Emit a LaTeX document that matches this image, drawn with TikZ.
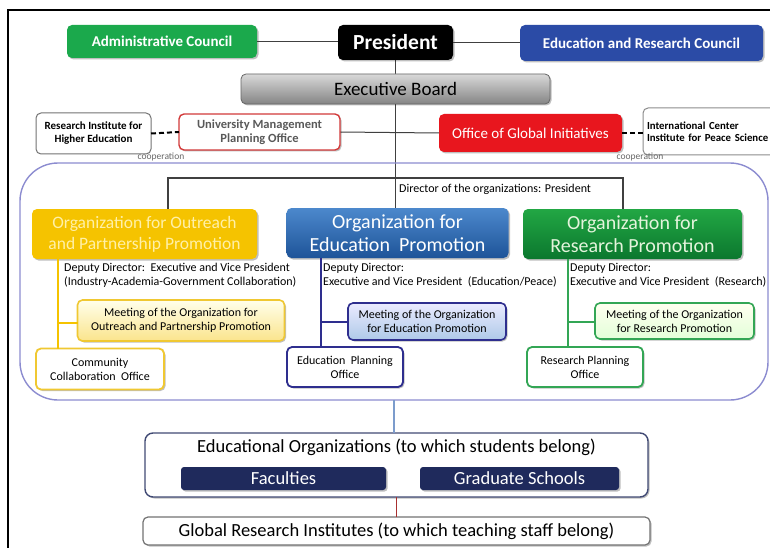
\documentclass[tikz,border=0pt]{standalone}
\usepackage{fontspec}
\setmainfont{Carlito}
\usetikzlibrary{shadows}
\pgfdeclarelayer{bg}
\pgfsetlayers{bg,main}
\definecolor{admgreen}{HTML}{1BA94C}
\definecolor{ercblue}{HTML}{2B4BA6}
\definecolor{ogired}{HTML}{E8161E}
\definecolor{umpored}{HTML}{D23A3A}
\definecolor{orgyellow}{HTML}{F5C300}
\definecolor{yeltext}{HTML}{FFF0A8}
\definecolor{edutop}{HTML}{4C88CC}
\definecolor{edubot}{HTML}{1E5499}
\definecolor{restop}{HTML}{22A744}
\definecolor{resbot}{HTML}{0B772E}
\definecolor{restext}{HTML}{E4F4DC}
\definecolor{frameblue}{HTML}{8C8CD0}
\definecolor{yelborder}{HTML}{F0C832}
\definecolor{navy}{HTML}{2E2E8E}
\definecolor{grnborder}{HTML}{33A655}
\definecolor{darknavy}{HTML}{1F2A5C}
\definecolor{linkblue}{HTML}{7C9CCC}
\definecolor{linkred}{HTML}{A83030}
\tikzset{
  box/.style={rounded corners=5pt, inner sep=0pt, outer sep=0pt, align=center},
  shad/.style={drop shadow={shadow xshift=1.5pt, shadow yshift=-1.5pt, opacity=0.25, fill=black}},
  sz/.style 2 args={minimum width=#1, minimum height=#2},
  conn/.style={draw=black!75, line width=1pt},
  coop/.style={draw=black, line width=2pt, dash pattern=on 5pt off 3pt},
  coopnote/.style={font=\fontsize{9.5}{10}\selectfont, text=black!60, inner sep=0pt},
  deputy/.style={font=\fontsize{12}{14}\selectfont, align=left, anchor=north west, inner sep=0pt},
  small/.style={font=\fontsize{12}{14}\selectfont}
}
\begin{document}
\begin{tikzpicture}[x=1pt,y=-1pt]
\useasboundingbox (0,0) rectangle (770,548);
\clip (0,0) rectangle (770,548);
\begin{pgfonlayer}{bg}
\fill[white] (0,0) rectangle (770,548);
\end{pgfonlayer}
% frame
\draw[line width=1.6pt, black] (8,548) -- (8,10) -- (770,10);

% big organisation frame
\node[draw=frameblue, line width=1.4pt, rounded corners=38pt, inner sep=0pt, outer sep=0pt, minimum width=748, minimum height=237] (orgs) at (394,281.5) {};

% top row
\node[box, shad, fill=admgreen, text=white, font=\bfseries\fontsize{15}{17}\selectfont, sz={190}{33}] (admin) at (162,41.5) {Administrative Council};
\node[box, shad, fill=black, text=white, font=\bfseries\fontsize{21.5}{23}\selectfont, sz={115}{35}] (pres) at (395.5,42.5) {President};
\node[box, shad, fill=ercblue, text=white, font=\bfseries\fontsize{15}{17}\selectfont, sz={243}{36}] (erc) at (641.5,43) {Education and Research Council};
\draw[conn] (admin.east) -- (admin.east -| pres.west);
\draw[conn] (pres.east) -- (pres.east -| erc.west);

\node[box, shad, draw=black!60, line width=0.8pt, top color=black!15, bottom color=black!48, font=\fontsize{19}{21}\selectfont, sz={309}{30}] (exec) at (395.5,89) {Executive Board};

% second row
\node[box, shad, draw=umpored, fill=white, line width=1.4pt, text=black!65, font=\bfseries\fontsize{12.5}{14.5}\selectfont, sz={161}{36}] (umpo) at (259.5,132) {University Management\\Planning Office};
\node[box, shad, fill=ogired, text=white, font=\fontsize{15}{17}\selectfont, sz={183}{38}] (ogi) at (530.5,133) {Office of Global Initiatives};
\begin{pgfonlayer}{bg}
\draw[conn] (umpo.east) -- (ogi.west);
\end{pgfonlayer}
\node[box, draw=black!55, fill=white, line width=1pt, font=\bfseries\fontsize{11}{13}\selectfont, sz={115}{41}] (rihe) at (93.5,133.5) {Research Institute for\\Higher Education};
\node[box, draw=black!45, fill=white, line width=1pt, font=\bfseries\fontsize{10.8}{12.5}\selectfont, sz={150}{47}, align=left, text width=142pt] (icps) at (718,131.5) {International Center\\Institute for Peace Science};
\draw[coop] (rihe.east) -- (umpo.west);
\draw[coop] (ogi.east) -- (ogi.east -| icps.west);
\node[coopnote] (c1) at (161,156.5) {cooperation};
\node[coopnote] (c2) at (640,156.5) {cooperation};

% organisation boxes
\node[box, shad, fill=orgyellow, text=yeltext, font=\fontsize{17.5}{21}\selectfont, sz={225}{50}] (outreach) at (144.5,234) {Organization for Outreach\\and Partnership Promotion};
\node[box, shad, top color=edutop, bottom color=edubot, text=white, font=\fontsize{20}{23}\selectfont, sz={222}{50}] (edu) at (397.5,233) {Organization for\\Education\ \ Promotion};
\node[box, shad, top color=restop, bottom color=resbot, text=restext, font=\fontsize{20}{23}\selectfont, sz={219}{50}] (res) at (632.5,234) {Organization for\\Research Promotion};

% spine and directors line
\coordinate (hl) at (168,178);
\coordinate (hr) at (623,178);
\begin{pgfonlayer}{bg}
\draw[conn, line width=1.4pt] (pres.south) -- (pres.south |- edu.north);
\end{pgfonlayer}
\draw[conn, line width=1.4pt] (outreach.north -| hl) -- (hl) -- (hr) -- (res.north -| hr);
\node[font=\fontsize{12}{14}\selectfont, anchor=west, inner sep=0pt] (dir) at (399,189) {Director of the organizations: President};

% deputy texts
\node[deputy] (dy) at (64,263) {Deputy Director:\ \ Executive and Vice President\\(Industry-Academia-Government Collaboration)};
\node[deputy] (db) at (323,263) {Deputy Director:\\Executive and Vice President\ \ (Education/Peace)};
\node[deputy] (dg) at (570,263) {Deputy Director:\\Executive and Vice President\ \ (Research)};

% branch anchors
\coordinate (yx) at (58,323);
\coordinate (bx) at (321,322);
\coordinate (gx) at (568,322);

% yellow branch
\node[box, shad, small, draw=yelborder, line width=1.6pt, top color=yellow!8, bottom color=orgyellow!45, sz={207}{41}] (meety) at (181,320.5) {Meeting of the Organization for\\Outreach and Partnership Promotion};
\node[box, shad, small, draw=yelborder, fill=white, line width=1.8pt, sz={128}{41}] (comm) at (100,369) {Community\\Collaboration\ \ Office};
\draw[draw=orgyellow, line width=1.6pt] (yx |- outreach.south) -- (yx |- comm.north);
\draw[draw=orgyellow, line width=1.6pt] (yx) -- (yx -| meety.west);

% blue branch
\node[box, shad, small, draw=navy, line width=1.6pt, top color=blue!8, bottom color=edutop!45, sz={158}{37}] (meetb) at (427,321.5) {Meeting of the Organization\\for Education Promotion};
\node[box, shad, small, draw=navy, fill=white, line width=1.8pt, sz={116}{40}] (epo) at (345,367) {Education\ \ Planning\\Office};
\draw[draw=navy, line width=1.6pt] (bx |- edu.south) -- (bx |- epo.north);
\draw[draw=navy, line width=1.6pt] (bx) -- (bx -| meetb.west);

% green branch
\node[box, shad, small, draw=grnborder, line width=1.6pt, top color=yellow!6, bottom color=yellow!25!green!15, sz={159}{36}] (meetg) at (674.5,321) {Meeting of the Organization\\for Research Promotion};
\node[box, shad, small, draw=grnborder, fill=white, line width=1.8pt, sz={116}{40}] (rpo) at (585,367) {Research Planning\\Office};
\draw[draw=grnborder, line width=1.6pt] (gx |- res.south) -- (gx |- rpo.north);
\draw[draw=grnborder, line width=1.6pt] (gx) -- (gx -| meetg.west);

% bottom section
\node[box, shad, draw=darknavy!85, fill=white, line width=1.4pt, rounded corners=8pt, sz={503}{64}] (eduorg) at (396.5,465) {};
\node[inner sep=0pt, font=\fontsize{18.5}{20}\selectfont] (eotext) at (396.5,447) {Educational Organizations (to which students belong)};
\node[box, shad, rounded corners=3pt, fill=darknavy, text=white, font=\fontsize{18.5}{20}\selectfont, sz={205}{23}] (fac) at (283.5,478.5) {Faculties};
\node[box, shad, rounded corners=3pt, fill=darknavy, text=white, font=\fontsize{18.5}{20}\selectfont, sz={199}{23}] (grad) at (519.5,478.5) {Graduate Schools};
\node[box, shad, draw=black!55, fill=white, line width=1.2pt, font=\fontsize{18.5}{20}\selectfont, sz={507}{28}] (global) at (396.5,531) {Global Research Institutes (to which teaching staff belong)};
\draw[draw=linkblue, line width=1.4pt] (orgs.south) -- (orgs.south |- eduorg.north);
\draw[draw=linkred, line width=1.4pt] (eduorg.south) -- (global.north);
\end{tikzpicture}
\end{document}
